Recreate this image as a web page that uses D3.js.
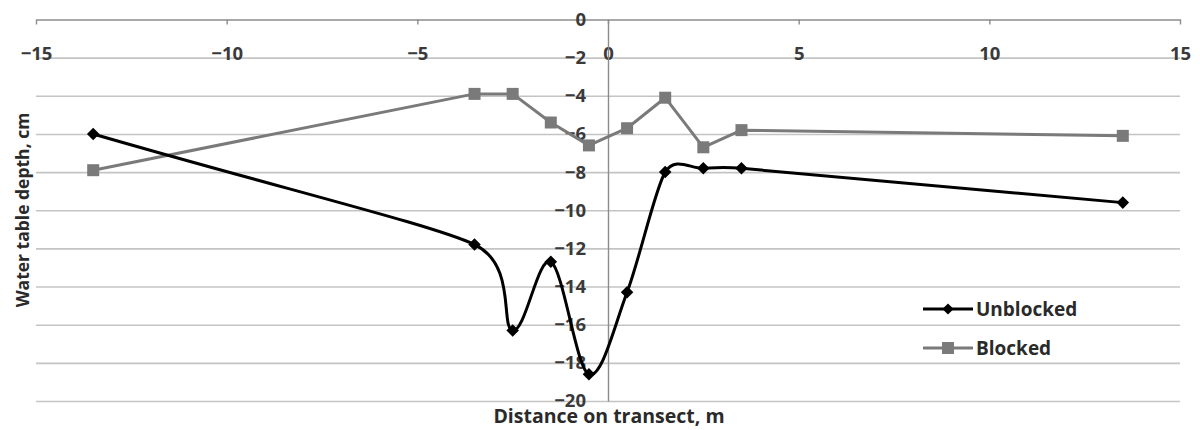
<!DOCTYPE html>
<html>
<head>
<meta charset="utf-8">
<script src="https://cdn.jsdelivr.net/npm/d3@7"></script>
<style>
  body { margin: 0; background: #fff; }
  svg { display: block; font-family: "Open Sans", sans-serif; }
</style>
</head>
<body>
<script>
// Distance on transect (m) for both series
const distances = [-13.5, -3.5, -2.5, -1.5, -0.5, 0.5, 1.5, 2.5, 3.5, 13.5];
// Water table depth (cm)
const unblocked = [-6.0, -11.8, -16.3, -12.7, -18.6, -14.3, -8.0, -7.8, -7.8, -9.6];
const blocked = [-7.9, -3.9, -3.9, -5.4, -6.6, -5.7, -4.1, -6.7, -5.8, -6.1];
const xTicks = [-15, -10, -5, 0, 5, 10, 15];
const yTicks = [0, -2, -4, -6, -8, -10, -12, -14, -16, -18, -20];
const seriesNames = ["Unblocked", "Blocked"];

const width = 1200;
const height = 430;

const x = d3.scaleLinear().domain([-15, 15]).range([36, 1180]);
const y = d3.scaleLinear().domain([-20, 0]).range([401, 19.5]);

const svg = d3.select("body")
  .append("svg")
  .attr("width", width)
  .attr("height", height);

// Horizontal gridlines
const grid = svg.append("g")
  .attr("transform", `translate(${x(-15)},0)`)
  .call(d3.axisRight(y)
    .tickValues(yTicks.filter(v => v !== 0))
    .tickSize(x(15) - x(-15))
    .tickFormat(""));
grid.select(".domain").remove();
grid.selectAll(".tick line")
  .attr("stroke", "#c4c4c4")
  .attr("stroke-width", 1.6);

// x axis along y = 0 (top), labels below it
const xAxis = svg.append("g")
  .attr("transform", `translate(0,${y(0)})`)
  .call(d3.axisBottom(x)
    .tickValues(xTicks)
    .tickSize(5)
    .tickPadding(22)
    .tickSizeOuter(0));
xAxis.select(".domain").attr("stroke", "#8c8c8c").attr("stroke-width", 1.6);
xAxis.selectAll(".tick line").attr("stroke", "#8c8c8c").attr("stroke-width", 1.4);
xAxis.selectAll(".tick text")
  .attr("font-size", 18.5)
  .attr("font-weight", "bold")
  .attr("font-family", "Open Sans, sans-serif")
  .attr("fill", "#3a3a3a");

// y axis along x = 0
const yAxis = svg.append("g")
  .attr("transform", `translate(${x(0)},0)`)
  .call(d3.axisLeft(y)
    .tickValues(yTicks)
    .tickSize(0)
    .tickPadding(22)
    .tickSizeOuter(0));
yAxis.select(".domain").attr("stroke", "#8c8c8c").attr("stroke-width", 1.4);
yAxis.selectAll(".tick text")
  .attr("font-size", 18.5)
  .attr("font-weight", "bold")
  .attr("font-family", "Open Sans, sans-serif")
  .attr("fill", "#3a3a3a");

// Axis titles
svg.append("text")
  .attr("x", 609)
  .attr("y", 423)
  .attr("text-anchor", "middle")
  .attr("font-size", 19.5)
  .attr("font-weight", "bold")
  .attr("fill", "#2a2a2a")
  .text("Distance on transect, m");

svg.append("text")
  .attr("transform", "translate(29,210) rotate(-90)")
  .attr("text-anchor", "middle")
  .attr("font-size", 17.5)
  .attr("font-weight", "bold")
  .attr("fill", "#2a2a2a")
  .text("Water table depth, cm");

// Spreadsheet-style smoothing: Catmull-Rom tangents (1/6), but the handle
// length is capped at half the shorter neighbouring segment.
function smoothPath(pts) {
  const p = pts.map(d => [x(d[0]), y(d[1])]);
  const n = p.length;
  const dist = (a, b) => Math.hypot(b[0] - a[0], b[1] - a[1]);
  const handles = p.map((pt, i) => {
    const a = p[Math.max(i - 1, 0)];
    const b = p[Math.min(i + 1, n - 1)];
    const d02 = dist(a, b);
    const d01 = dist(a, pt);
    const d12 = dist(pt, b);
    let f = 1 / 6;
    if (d02 / 6 > d01 / 2 || d02 / 6 > d12 / 2) {
      const m = Math.min(d01 > 0 ? d01 : d12, d12 > 0 ? d12 : d01);
      f = d02 > 0 ? m / (2 * d02) : 0;
    }
    return [(b[0] - a[0]) * f, (b[1] - a[1]) * f];
  });
  const path = d3.path();
  path.moveTo(p[0][0], p[0][1]);
  for (let i = 0; i < n - 1; i++) {
    path.bezierCurveTo(
      p[i][0] + handles[i][0], p[i][1] + handles[i][1],
      p[i + 1][0] - handles[i + 1][0], p[i + 1][1] - handles[i + 1][1],
      p[i + 1][0], p[i + 1][1]);
  }
  return path.toString();
}

const straightLine = d3.line()
  .x(d => x(d[0]))
  .y(d => y(d[1]));

const blockedPts = distances.map((d, i) => [d, blocked[i]]);
const unblockedPts = distances.map((d, i) => [d, unblocked[i]]);

const blockedColor = "#7a7a7a";
const unblockedColor = "#000";

// Blocked series
svg.append("path")
  .datum(blockedPts)
  .attr("fill", "none")
  .attr("stroke", blockedColor)
  .attr("stroke-width", 3)
  .attr("stroke-linejoin", "round")
  .attr("d", straightLine);

svg.append("g")
  .selectAll("rect")
  .data(blockedPts)
  .join("rect")
  .attr("x", d => x(d[0]) - 6)
  .attr("y", d => y(d[1]) - 6)
  .attr("width", 12)
  .attr("height", 12)
  .attr("fill", blockedColor);

// Unblocked series
svg.append("path")
  .datum(unblockedPts)
  .attr("fill", "none")
  .attr("stroke", unblockedColor)
  .attr("stroke-width", 3)
  .attr("stroke-linejoin", "round")
  .attr("d", smoothPath);

const diamond = d3.symbol().type(d3.symbolDiamond2).size(100);

svg.append("g")
  .selectAll("path")
  .data(unblockedPts)
  .join("path")
  .attr("transform", d => `translate(${x(d[0])},${y(d[1])})`)
  .attr("d", diamond)
  .attr("fill", unblockedColor);

// Legend
const legend = svg.append("g");
const legendRows = [
  { name: seriesNames[0], color: unblockedColor, y: 309, marker: "diamond" },
  { name: seriesNames[1], color: blockedColor, y: 348, marker: "square" }
];
legendRows.forEach(r => {
  legend.append("line")
    .attr("x1", 923).attr("x2", 973)
    .attr("y1", r.y).attr("y2", r.y)
    .attr("stroke", r.color)
    .attr("stroke-width", 3);
  if (r.marker === "diamond") {
    legend.append("path")
      .attr("transform", `translate(948,${r.y})`)
      .attr("d", d3.symbol().type(d3.symbolDiamond2).size(80))
      .attr("fill", r.color);
  } else {
    legend.append("rect")
      .attr("x", 942).attr("y", r.y - 6)
      .attr("width", 12).attr("height", 12)
      .attr("fill", r.color);
  }
  legend.append("text")
    .attr("x", 976)
    .attr("y", r.y)
    .attr("dy", "0.35em")
    .attr("font-size", 19)
    .attr("font-weight", "bold")
    .attr("fill", "#2a2a2a")
    .text(r.name);
});
</script>
</body>
</html>
